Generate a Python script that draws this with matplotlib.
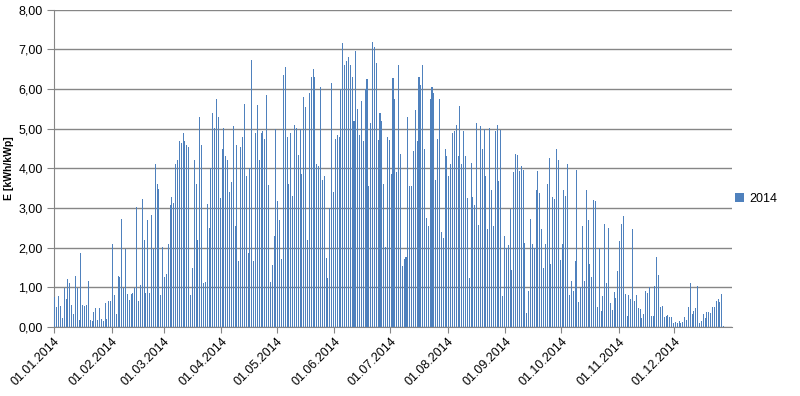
import matplotlib
matplotlib.use("Agg")
import matplotlib.pyplot as plt
import numpy as np

plt.rcParams['font.family'] = ['Liberation Sans', 'DejaVu Sans']

# daily yield 2014, kWh/kWp, month by month
jan = [0.76, 0.5, 0.79, 0.52, 0.24, 0.98, 0.72, 1.22, 1.12, 0.55, 0.34, 1.29, 0.98, 0.18, 1.87, 0.55,
       0.52, 0.55, 1.17, 0.18, 0.16, 0.37, 0.47, 0.18, 0.47, 0.21, 0.16, 0.6, 0.21, 0.65, 0.65]
feb = [2.1, 0.82, 0.34, 1.29, 1.27, 2.73, 0.99, 1.96, 0.84, 0.69, 0.84, 0.87, 0.99, 3.03, 0.65,
       1.06, 3.23, 2.2, 0.86, 2.7, 0.85, 2.82, 1.96, 4.1, 3.6, 3.47, 0.82, 2.03]
mar = [1.27, 1.33, 2.1, 3.07, 3.27, 3.12, 4.12, 4.2, 4.7, 4.65, 4.9, 4.7, 4.6, 4.55, 0.8, 1.5,
       4.2, 3.6, 2.2, 5.3, 4.6, 1.1, 1.13, 3.1, 2.5, 4.0, 5.4, 5.02, 5.75, 5.3, 3.25]
apr = [4.5, 5.02, 4.3, 4.2, 3.4, 3.65, 5.06, 2.55, 4.6, 1.67, 4.55, 4.8, 5.63, 3.8, 1.86, 4.0,
       6.73, 1.67, 4.9, 5.6, 4.2, 4.9, 4.95, 4.75, 5.85, 3.58, 1.13, 1.57, 2.3, 5.0]
may = [3.18, 2.71, 1.71, 6.35, 6.55, 4.8, 3.61, 4.9, 3.3, 5.1, 5.02, 4.35, 5.0, 3.86, 5.8, 5.55,
       2.2, 5.9, 6.3, 6.5, 6.3, 4.1, 4.05, 6.05, 3.7, 3.8, 1.73, 1.25, 3.0, 6.15, 3.4]
jun = [4.73, 4.85, 4.8, 6.0, 7.15, 6.6, 6.7, 6.8, 6.6, 6.3, 5.2, 6.95, 5.5, 4.85, 5.7, 4.7,
       6.0, 6.25, 3.55, 5.15, 7.18, 7.05, 6.65, 4.72, 5.4, 5.2, 3.6, 2.03, 4.8, 4.72]
jul = [3.85, 6.28, 5.76, 3.9, 6.6, 4.37, 1.53, 1.72, 1.76, 5.3, 3.55, 3.55, 4.45, 5.48, 4.7, 6.3,
       6.1, 6.6, 4.5, 2.75, 2.55, 5.75, 6.05, 5.9, 3.7, 4.75, 5.75, 2.4, 2.25, 4.5, 4.3]
aug = [3.8, 4.1, 4.9, 4.95, 5.1, 4.3, 5.57, 4.1, 4.95, 4.3, 3.25, 1.24, 4.13, 3.28, 3.07, 5.15,
       2.58, 5.07, 4.5, 5.0, 3.8, 2.48, 5.03, 3.45, 2.55, 4.95, 5.1, 3.67, 4.97, 0.78, 2.3]
sep = [2.0, 2.07, 2.98, 1.45, 3.9, 4.37, 4.35, 3.94, 4.05, 3.96, 2.13, 0.36, 0.9, 2.73, 2.1, 2.0,
       3.45, 3.93, 3.38, 2.46, 1.5, 2.1, 3.6, 4.25, 1.6, 3.28, 3.23, 4.5, 4.2, 1.7]
oct_ = [2.1, 3.45, 3.3, 4.1, 0.8, 1.17, 0.9, 1.67, 3.97, 0.63, 1.0, 2.55, 1.17, 3.45, 2.7, 1.6,
        1.26, 3.2, 3.17, 0.5, 2.0, 0.4, 0.78, 2.6, 1.1, 2.5, 0.6, 0.43, 0.88, 0.74, 1.41]
nov = [2.16, 2.6, 2.8, 0.83, 0.27, 0.81, 0.7, 2.47, 0.66, 0.81, 0.48, 0.46, 0.23, 0.33, 0.91, 0.85,
       1.01, 0.27, 0.27, 1.03, 1.76, 1.31, 0.5, 0.52, 0.25, 0.27, 0.3, 0.25, 0.25, 0.11]
dec = [0.13, 0.1, 0.15, 0.11, 0.12, 0.25, 0.18, 0.5, 1.1, 0.33, 0.4, 0.48, 1.04, 0.1, 0.15, 0.33,
       0.23, 0.38, 0.38, 0.36, 0.5, 0.5, 0.66, 0.7, 0.63, 0.83, 0.02, 0, 0, 0, 0]

months = [jan, feb, mar, apr, may, jun, jul, aug, sep, oct_, nov, dec]
tick_labels = ["01.01.2014", "01.02.2014", "01.03.2014", "01.04.2014", "01.05.2014", "01.06.2014",
               "01.07.2014", "01.08.2014", "01.09.2014", "01.10.2014", "01.11.2014", "01.12.2014"]

values = np.concatenate(months)
month_start = np.cumsum([0] + [len(m) for m in months[:-1]])
days = np.arange(len(values))

fig = plt.figure(figsize=(8, 3.96), dpi=100)
ax = fig.add_axes([0.0675, 0.174, 0.8475, 0.8015])

ax.bar(days + 0.5, values, width=0.55, color="#4F81BD", label="2014", zorder=3)

ax.set_xlim(0, len(values))
ax.set_ylim(0, 8)
ax.set_yticks(np.arange(0, 9, 1))
ax.set_yticklabels([f"{v:.2f}".replace(".", ",") for v in np.arange(0, 9, 1)], fontsize=9)
ax.set_xticks(month_start)
ax.set_xticklabels(tick_labels, rotation=45, ha="right", rotation_mode="anchor", fontsize=9)
ax.tick_params(axis="x", length=4, color="#868686", pad=2)
ax.tick_params(axis="y", length=5, color="#868686", pad=3)

ax.grid(axis="y", color="#868686", linewidth=1, zorder=0)
for side in ["top", "right"]:
    ax.spines[side].set_visible(False)
ax.spines["left"].set_color("#868686")
ax.spines["bottom"].set_color("#868686")

ax.set_ylabel("E [kWh/kWp]", fontsize=7.5, fontweight="bold")
ax.yaxis.set_label_coords(-0.059, 0.5)

fig.legend(loc="center left", bbox_to_anchor=(0.905, 0.497), frameon=False, fontsize=9,
           handlelength=0.7, handleheight=0.7, handletextpad=0.4)

fig.savefig("out.png", dpi=100)
